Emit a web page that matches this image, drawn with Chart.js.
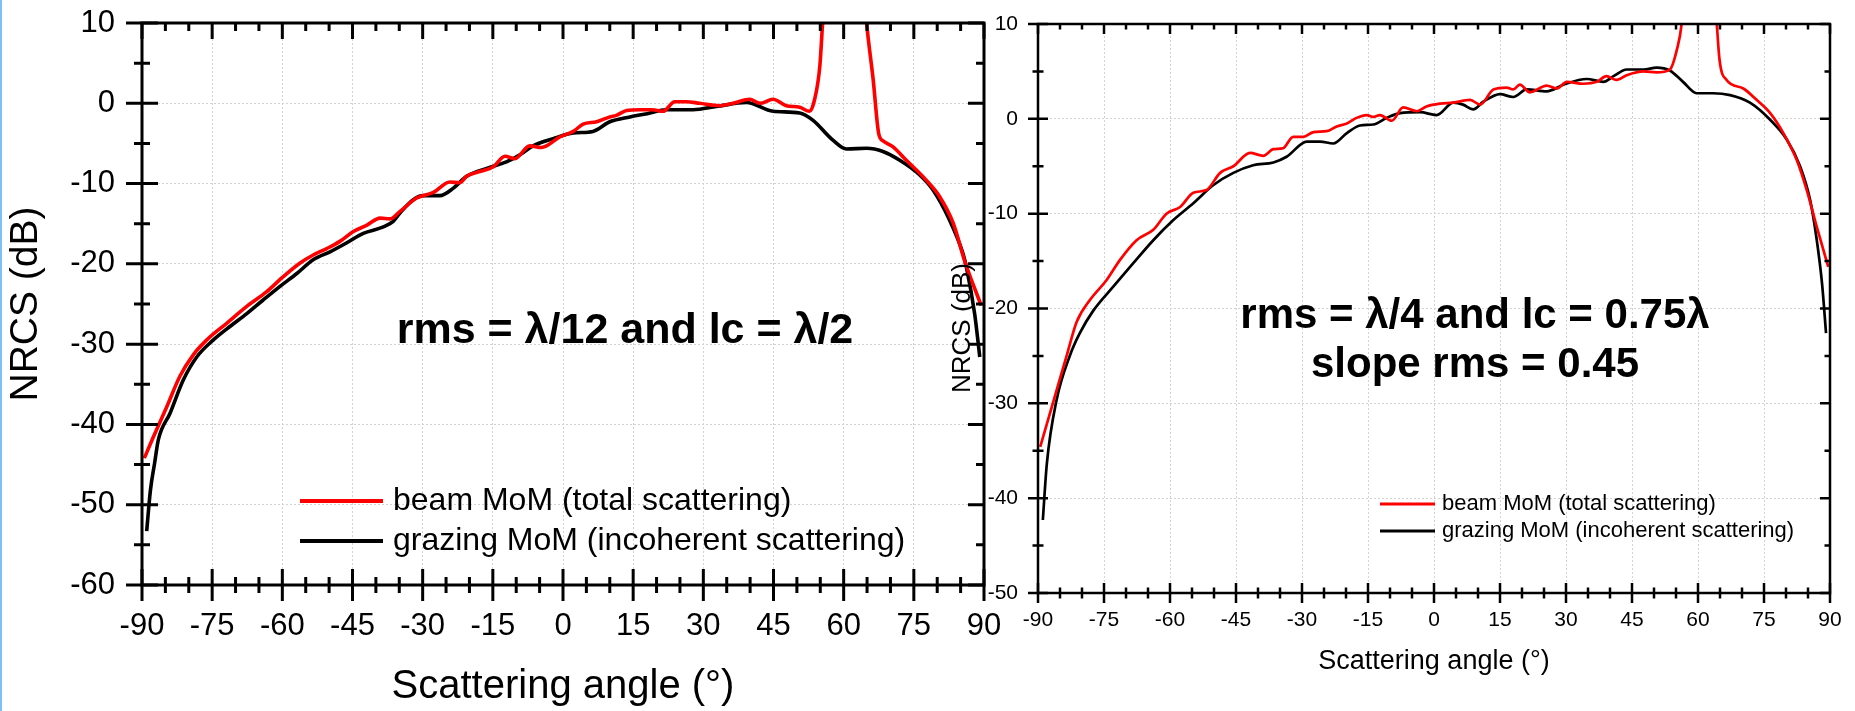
<!DOCTYPE html>
<html>
<head>
<meta charset="utf-8">
<title>NRCS vs scattering angle</title>
<script src="https://cdn.jsdelivr.net/npm/chart.js@4.4.1/dist/chart.umd.min.js"></script>
<style>
  html, body { margin: 0; padding: 0; background: #fff; }
  body { width: 1855px; height: 711px; position: relative; overflow: hidden; }
  #edge { position: absolute; left: 0; top: 0; width: 2px; height: 711px; background: #7cc3f5; }
  .panel { position: absolute; top: 0; height: 711px; }
  #leftPanel { left: 0; width: 1000px; }
  #rightPanel { left: 890px; width: 965px; }
</style>
</head>
<body>
<div id="edge"></div>
<div class="panel" id="leftPanel"><canvas id="leftChart"></canvas></div>
<div class="panel" id="rightPanel"><canvas id="rightChart"></canvas></div>
<script>
// values (angle in degrees, NRCS in dB)
const seriesLabels = ['beam MoM (total scattering)', 'grazing MoM (incoherent scattering)'];
const angleRange = [-90, 90];
const leftNrcsRange = [-60, 10];
const rightNrcsRange = [-50, 10];

// left panel: rms = λ/12, lc = λ/2
const leftBeamAngle = [-89.5,-87.6,-84.7,-81.9,-79.0,-76.2,-71.9,-67.6,-63.4,-59.8,-56.2,-53.4,-50.5,-47.7,-44.9,-42.0,-39.1,-37.0,-34.9,-31.3,-27.7,-24.2,-22.1,-20.6,-17.8,-14.9,-12.4,-10.3,-7.1,-4.6,-0.7,2.2,4.3,7.2,10.0,11.4,13.6,16.4,19.0,21.4,23.9,26.4,29.2,33.5,36.4,39.9,42.1,44.9,47.7,50.6,52.7,53.8,54.9,55.5,56.5,60.0,63.5,64.9,66.3,67.5,68.5,70.5,73.4,77.7,80.5,83.4,85.9,89.4];
const leftBeamNrcs = [-44.2,-41.6,-37.8,-34.0,-31.3,-29.5,-27.4,-25.3,-23.5,-21.6,-19.9,-18.9,-18.1,-17.2,-16.0,-15.2,-14.3,-14.4,-13.5,-11.8,-11.1,-9.8,-9.9,-9.1,-8.5,-7.9,-6.6,-6.9,-5.3,-5.5,-4.2,-3.5,-2.6,-2.3,-1.7,-1.5,-0.9,-0.8,-0.8,-1.0,0.2,0.2,0.0,-0.3,0.0,0.5,0.0,0.5,-0.3,-0.5,-1.0,0.5,4.6,10.0,18.0,25.0,20.0,10.0,3.0,-3.8,-4.7,-5.4,-7.1,-9.6,-11.6,-14.9,-19.7,-25.2];
const leftGrazAngle = [-89.0,-88.2,-87.3,-86.5,-84.0,-81.2,-78.3,-74.8,-71.2,-67.6,-64.1,-60.5,-56.9,-53.4,-49.8,-46.3,-42.7,-38.4,-36.3,-34.9,-32.0,-29.9,-26.3,-23.5,-20.6,-16.3,-12.1,-9.2,-6.4,-2.1,2.2,6.4,10.0,14.3,18.0,22.1,27.8,32.8,39.2,44.9,50.6,53.4,57.7,60.6,64.9,68.4,72.0,76.2,79.1,82.6,85.5,86.2,88.0,89.1];
const leftGrazNrcs = [-53.3,-48.2,-44.8,-41.9,-38.6,-34.5,-31.6,-29.5,-27.8,-26.2,-24.5,-22.8,-21.2,-19.5,-18.5,-17.4,-16.2,-15.4,-14.7,-13.7,-12.0,-11.5,-11.5,-10.6,-9.1,-8.1,-7.3,-6.4,-5.3,-4.4,-3.7,-3.5,-2.3,-1.7,-1.3,-0.8,-0.8,-0.4,0.1,-1.0,-1.2,-2.1,-4.6,-5.7,-5.6,-6.0,-7.1,-8.9,-10.8,-14.5,-18.7,-20.3,-26.2,-31.6];

// right panel: rms = λ/4, lc = 0.75λ
const rightBeamAngle = [-89.5,-86.5,-83.5,-81.2,-78.2,-74.4,-71.4,-67.6,-63.8,-60.8,-57.7,-54.7,-51.7,-48.6,-45.6,-41.8,-38.8,-36.5,-34.3,-32.0,-29.7,-27.4,-24.4,-22.1,-19.8,-17.6,-15.3,-13.8,-12.3,-9.6,-7.0,-3.9,-1.7,1.4,4.4,8.2,10.5,13.5,16.5,18.0,19.5,21.8,25.6,27.9,30.2,33.9,37.0,39.2,41.5,43.8,47.6,50.6,53.6,55.2,56.3,57.5,60.0,63.0,64.2,64.9,66.5,70.3,73.3,76.4,79.4,82.4,84.7,87.0,89.6];
const rightBeamNrcs = [-34.6,-29.8,-25.0,-21.4,-19.1,-17.0,-14.9,-12.8,-11.7,-10.0,-9.3,-7.8,-7.5,-5.7,-5.0,-3.6,-3.9,-3.2,-3.1,-1.9,-1.9,-1.4,-1.3,-0.8,-0.5,0.1,0.4,0.2,0.4,-0.2,1.2,0.8,1.3,1.6,1.7,2.0,1.5,3.1,3.3,3.1,3.6,2.8,3.5,3.2,3.9,3.7,3.9,4.5,4.1,4.6,5.0,4.9,5.2,7.3,10.1,18.0,24.0,18.0,10.5,6.2,4.1,3.2,2.0,0.6,-1.5,-4.3,-7.5,-11.4,-15.6];
const rightGrazAngle = [-88.9,-88.0,-85.8,-82.7,-80.5,-77.4,-72.9,-68.3,-63.8,-59.3,-54.7,-50.2,-45.6,-41.1,-36.5,-33.5,-28.9,-25.9,-22.9,-19.8,-16.8,-13.8,-10.8,-7.7,-3.2,0.6,4.4,6.6,8.9,11.2,15.0,18.0,21.1,25.6,29.4,34.7,38.5,40.8,43.8,47.6,50.6,53.6,56.6,59.7,63.4,67.3,71.8,76.4,80.2,83.2,85.5,87.0,88.2,89.1];
const rightGrazNrcs = [-42.3,-36.4,-29.7,-24.9,-22.6,-20.2,-17.7,-15.2,-12.8,-10.7,-8.9,-7.0,-5.7,-4.9,-4.6,-4.0,-2.4,-2.4,-2.6,-1.5,-0.7,-0.6,0.1,0.6,0.7,0.4,1.7,1.5,1.0,1.8,2.6,2.3,3.1,2.9,3.6,4.2,3.9,4.5,5.2,5.2,5.4,5.1,3.9,2.7,2.7,2.5,1.7,-0.1,-2.2,-5.0,-8.6,-12.8,-17.4,-22.6];

const FONT = "'Liberation Sans', Arial, sans-serif";
Chart.defaults.font.family = FONT;
Chart.defaults.color = '#000';

function toPoints(xs, ys) {
  return xs.map((a, i) => ({ x: a, y: ys[i] }));
}

// box around the plot with crossing ticks bottom/left, inner ticks top/right
const frame = {
  id: 'frame',
  afterDatasetsDraw(chart, args, o) {
    const { ctx, chartArea: a } = chart;
    const x = chart.scales.x, y = chart.scales.y;
    ctx.save();
    ctx.strokeStyle = '#000';
    ctx.lineWidth = o.width;
    ctx.beginPath();
    for (let v = x.min; v <= x.max; v += 5) {
      const big = v % 15 === 0;
      const px = x.getPixelForValue(v);
      const inn = big ? o.majIn : o.minIn, out = big ? o.majOut : o.minOut;
      ctx.moveTo(px, a.bottom + out); ctx.lineTo(px, a.bottom - inn);
      ctx.moveTo(px, a.top); ctx.lineTo(px, a.top + inn);
    }
    for (let v = y.min; v <= y.max; v += 5) {
      const big = v % 10 === 0;
      const py = y.getPixelForValue(v);
      const inn = big ? o.majIn : o.minIn, out = big ? o.majOut : o.minOut;
      ctx.moveTo(a.left - out, py); ctx.lineTo(a.left + inn, py);
      ctx.moveTo(a.right, py); ctx.lineTo(a.right - inn, py);
    }
    ctx.stroke();
    ctx.strokeRect(a.left, a.top, a.width, a.height);
    ctx.restore();
  }
};

// free text (annotation, extra title) and the in-plot legend
const notes = {
  id: 'notes',
  afterDraw(chart, args, o) {
    const ctx = chart.ctx;
    ctx.save();
    ctx.fillStyle = '#000';
    o.texts.forEach(t => {
      ctx.save();
      ctx.font = t.font;
      ctx.textAlign = 'center';
      ctx.textBaseline = t.baseline || 'alphabetic';
      ctx.translate(t.x, t.y);
      if (t.rotate) ctx.rotate(t.rotate);
      ctx.fillText(t.text, 0, 0);
      ctx.restore();
    });
    const lg = o.legend;
    chart.data.datasets.forEach((ds, i) => {
      const y = lg.y + i * lg.gap;
      ctx.strokeStyle = ds.borderColor;
      ctx.lineWidth = lg.lineWidth;
      ctx.beginPath();
      ctx.moveTo(lg.x, y);
      ctx.lineTo(lg.x + lg.len, y);
      ctx.stroke();
      ctx.font = lg.font;
      ctx.textAlign = 'left';
      ctx.textBaseline = 'middle';
      ctx.fillText(ds.label, lg.x + lg.len + lg.textGap, y);
    });
    ctx.restore();
  }
};

// empty scale used only to reserve a fixed strip on one side
function spacer(position, size) {
  return {
    type: 'linear', position, min: 0, max: 1,
    ticks: { display: false }, grid: { display: false }, border: { display: false },
    afterFit: s => { if (position === 'top') s.height = size; else s.width = size; }
  };
}

function makeChart(id, c) {
  return new Chart(document.getElementById(id), {
    type: 'line',
    data: {
      datasets: [
        { label: seriesLabels[0], data: toPoints(c.beamAngle, c.beamNrcs), borderColor: '#ff0000',
          borderWidth: c.lineWidth, pointRadius: 0, cubicInterpolationMode: 'monotone', clip: 0 },
        { label: seriesLabels[1], data: toPoints(c.grazAngle, c.grazNrcs), borderColor: '#000000',
          borderWidth: c.lineWidth, pointRadius: 0, cubicInterpolationMode: 'monotone', clip: 0 }
      ]
    },
    options: {
      responsive: true,
      maintainAspectRatio: false,
      animation: false,
      events: [],
      layout: { padding: 0 },
      plugins: {
        legend: { display: false },
        tooltip: { enabled: false },
        frame: c.frame,
        notes: c.notes
      },
      scales: {
        x: {
          type: 'linear',
          min: angleRange[0], max: angleRange[1],
          // fixed strip height, and no extra room for the end labels
          afterFit: s => { s.height = c.xHeight; s.paddingLeft = 0; s.paddingRight = 0; },
          ticks: { stepSize: 15, autoSkip: false, maxRotation: 0, padding: c.xTickPad, font: { size: c.tickSize } },
          grid: { color: '#d2d2d2', lineWidth: 1, drawTicks: false },
          border: { display: false, dash: [2, 2] },
          title: { display: true, text: 'Scattering angle (°)', font: { size: c.xTitleSize }, padding: { top: 0, bottom: c.xTitlePad } }
        },
        y: {
          min: c.yRange[0], max: c.yRange[1],
          afterFit: s => { s.width = c.yWidth; s.paddingTop = 0; s.paddingBottom = 0; },
          ticks: { stepSize: 10, padding: c.yTickPad, font: { size: c.tickSize } },
          grid: { color: '#d2d2d2', lineWidth: 1, drawTicks: false },
          border: { display: false, dash: [2, 2] },
          title: { display: c.yTitle, text: 'NRCS (dB)', font: { size: c.yTitleSize }, padding: { top: 3, bottom: 0 } }
        },
        xTop: spacer('top', c.gapTop),
        yRight: spacer('right', c.gapRight)
      }
    },
    plugins: [frame, notes]
  });
}

makeChart('leftChart', {
  beamAngle: leftBeamAngle, beamNrcs: leftBeamNrcs,
  grazAngle: leftGrazAngle, grazNrcs: leftGrazNrcs,
  yRange: leftNrcsRange,
  lineWidth: 3.6,
  gapTop: 23, gapRight: 16,
  xHeight: 126, yWidth: 142,
  tickSize: 31, xTickPad: 23, yTickPad: 27,
  xTitleSize: 40, xTitlePad: 0, yTitle: true, yTitleSize: 39,
  frame: { width: 3, majIn: 16, majOut: 16, minIn: 8, minOut: 8 },
  notes: {
    texts: [
      { text: 'rms = λ/12 and lc = λ/2', x: 625, y: 343, font: 'bold 43px ' + FONT }
    ],
    legend: { x: 300, y: 501, gap: 40, len: 83, lineWidth: 4, textGap: 10, font: '32px ' + FONT }
  }
});

makeChart('rightChart', {
  beamAngle: rightBeamAngle, beamNrcs: rightBeamNrcs,
  grazAngle: rightGrazAngle, grazNrcs: rightGrazNrcs,
  yRange: rightNrcsRange,
  lineWidth: 2.7,
  gapTop: 24, gapRight: 25,
  xHeight: 118, yWidth: 148,
  tickSize: 21, xTickPad: 15, yTickPad: 20,
  xTitleSize: 27, xTitlePad: 33, yTitle: false, yTitleSize: 26,
  frame: { width: 2.5, majIn: 10, majOut: 10, minIn: 5.5, minOut: 5.5 },
  notes: {
    texts: [
      { text: 'rms = λ/4 and lc = 0.75λ', x: 585, y: 328, font: 'bold 42px ' + FONT },
      { text: 'slope rms = 0.45', x: 585, y: 377, font: 'bold 42px ' + FONT },
      { text: 'NRCS (dB)', x: 73, y: 328, rotate: -Math.PI / 2, baseline: 'middle', font: '26px ' + FONT }
    ],
    legend: { x: 490, y: 504, gap: 27, len: 55, lineWidth: 3, textGap: 7, font: '22px ' + FONT }
  }
});
</script>
</body>
</html>
